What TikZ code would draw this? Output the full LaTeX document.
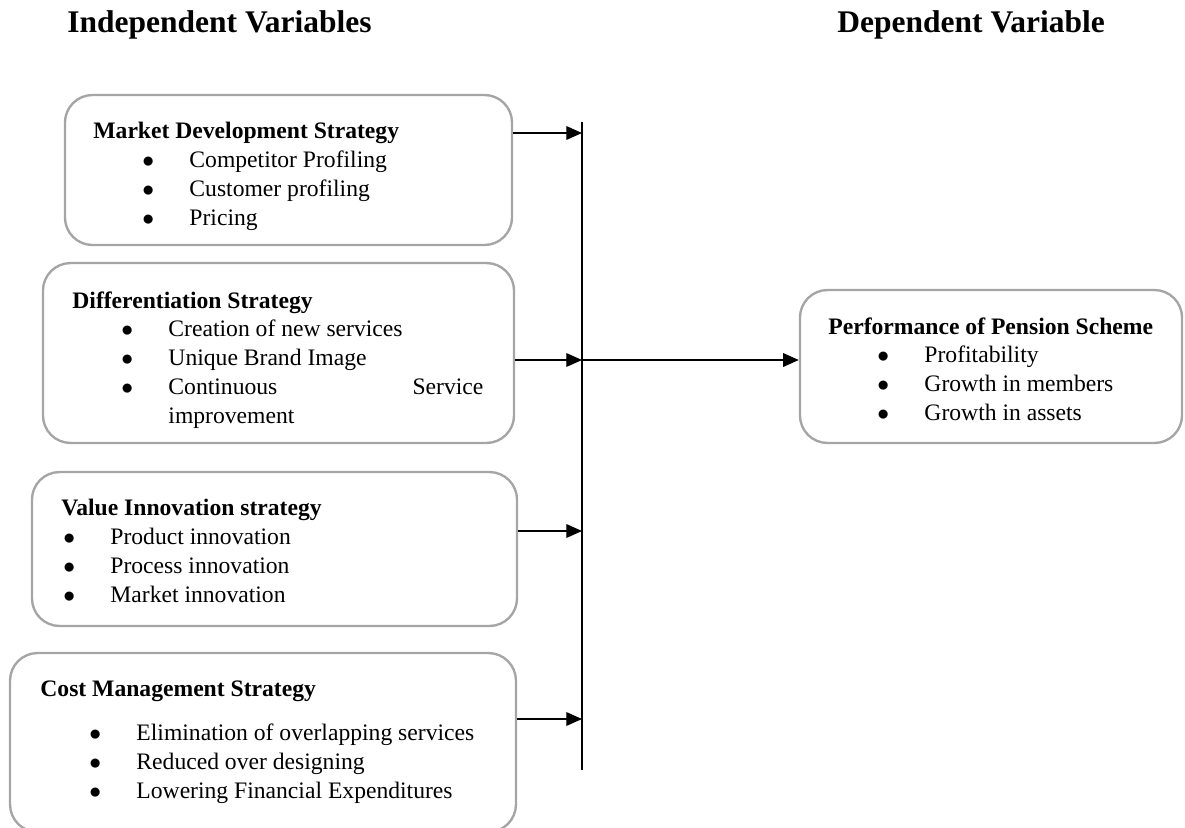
\documentclass[tikz,border=0pt]{standalone}
\usepackage{fontspec}
\setmainfont{Liberation Serif}
\usetikzlibrary{arrows.meta}

\definecolor{boxgray}{RGB}{165,165,165}
% one bulleted line inside a strategy box
\newcommand{\bitem}[2][24.9pt]{\hspace*{#1}\makebox[23.9pt][l]{$\bullet$}#2}

\begin{document}
\begin{tikzpicture}[x=0.508pt, y=-0.508pt,
    box/.style={draw=boxgray, line width=1.2pt, rounded corners=14pt, inner sep=0pt},
    list/.style={anchor=north west, align=left, inner sep=0pt, font=\fontsize{12}{14.7}\selectfont},
    title/.style={anchor=west, inner sep=0pt, font=\fontsize{16}{19}\selectfont\bfseries},
    flow/.style={line width=0.6pt, -{Triangle[length=8pt, width=7pt]}}]
    \useasboundingbox (0,0) rectangle (1185,828);

    \node[title] (indep) at (67,25) {Independent Variables};
    \node[title] (dep) at (837,25) {Dependent Variable};

    % strategy boxes
    \node[box, minimum width=227.1pt, minimum height=76.2pt] (mds) at (288.5,170) {};
    \node[box, minimum width=239.3pt, minimum height=91.4pt] (dfs) at (278.5,353) {};
    \node[box, minimum width=246.4pt, minimum height=78.2pt] (vis) at (274.5,549) {};
    \node[box, minimum width=257pt, minimum height=90.9pt] (cms) at (263,742.5) {};
    \node[box, minimum width=194.1pt, minimum height=77.7pt] (pps) at (991,366.5) {};

    \node[list] (mdstext) at (93,122) {\textbf{Market Development Strategy}\\
        \bitem{Competitor Profiling}\\ \bitem{Customer profiling}\\ \bitem{Pricing}};
    \node[list] (dfstext) at (72,291) {\textbf{Differentiation Strategy}\\
        \bitem{Creation of new services}\\ \bitem{Unique Brand Image}\\
        \bitem{\makebox[160pt][s]{Continuous\hfill Service}}\\ \hspace*{48.8pt}improvement};
    \node[list] (vistext) at (61,499) {\textbf{Value Innovation strategy}\\
        \bitem[1pt]{Product innovation}\\ \bitem[1pt]{Process innovation}\\ \bitem[1pt]{Market innovation}};
    \node[list] (cmstext) at (40,680) {\textbf{Cost Management Strategy}\\[8pt]
        \bitem{Elimination of overlapping services}\\ \bitem{Reduced over designing}\\
        \bitem{Lowering Financial Expenditures}};
    \node[list] (ppstext) at (828,317) {\textbf{Performance of Pension Scheme}\\
        \bitem{Profitability}\\ \bitem{Growth in members}\\ \bitem{Growth in assets}};

    % collecting bar
    \coordinate (bartop) at (582,122);
    \coordinate (barbot) at (582,770);
    \coordinate (j1) at (582,133);
    \coordinate (j2) at (582,360);
    \coordinate (j3) at (582,531);
    \coordinate (j4) at (582,719);
    \draw[line width=0.6pt] (bartop) -- (barbot);

    \draw[flow] (mds.east |- j1) -- (j1);
    \draw[flow] (dfs.east |- j2) -- (j2);
    \draw[flow] (vis.east |- j3) -- (j3);
    \draw[flow] (cms.east |- j4) -- (j4);
    \draw[flow] (j2) -- (pps.west |- j2);
\end{tikzpicture}
\end{document}
